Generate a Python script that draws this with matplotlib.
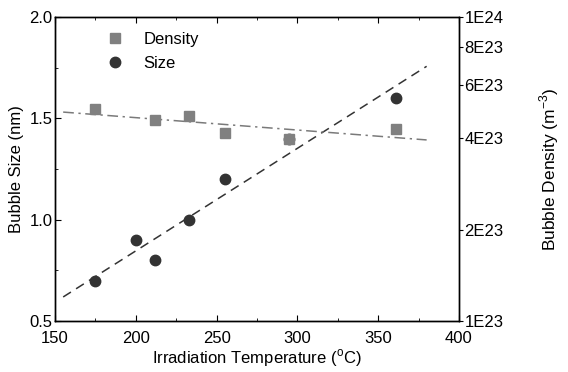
import matplotlib.pyplot as plt
from matplotlib.ticker import FixedLocator, MultipleLocator, NullLocator
import numpy as np

plt.rcParams['font.family'] = ['Liberation Sans', 'DejaVu Sans']

size_temp = [175, 200, 212, 233, 255, 295, 361]
size_nm = [0.70, 0.90, 0.80, 1.00, 1.20, 1.40, 1.60]

dens_temp = [175, 212, 233, 255, 295, 361]
dens_m3 = [4.98e23, 4.58e23, 4.72e23, 4.15e23, 3.97e23, 4.28e23]

density_ticks = [1e23, 2e23, 4e23, 6e23, 8e23, 1e24]
density_labels = ['1E23', '2E23', '4E23', '6E23', '8E23', '1E24']

fit_x = np.array([155, 380])

fig, ax = plt.subplots(figsize=(5.68, 3.72), dpi=100)
fig.subplots_adjust(left=0.097, right=0.808, top=0.954, bottom=0.137)

ax2 = ax.twinx()

# linear fit of size, log fit of density
k, b = np.polyfit(size_temp, size_nm, 1)
ax.plot(fit_x, k * fit_x + b, ls=(0, (6, 4)), color='#333333', lw=1.1)

kd, bd = np.polyfit(dens_temp, np.log10(dens_m3), 1)
ax2.plot(fit_x, 10 ** (kd * fit_x + bd), ls=(0, (7, 3, 1.5, 3)),
         color='#7a7a7a', lw=1.1)

ax2.plot(dens_temp, dens_m3, 's', color='#808080', ms=7.5, label='Density')
ax.plot(size_temp, size_nm, 'o', color='#333333', ms=7.5, label='Size')

ax.set_xlim(150, 400)
ax.set_ylim(0.5, 2.0)
ax.xaxis.set_major_locator(MultipleLocator(50))
ax.xaxis.set_minor_locator(MultipleLocator(25))
ax.yaxis.set_major_locator(MultipleLocator(0.5))
ax.yaxis.set_minor_locator(MultipleLocator(0.25))
ax.tick_params(which='both', direction='in', top=True, labelsize=12)
ax.tick_params(which='major', length=4)
ax.tick_params(which='minor', length=2.5)
ax.tick_params(axis='x', pad=7)
ax.tick_params(axis='y', right=False, pad=2)

ax2.set_yscale('log')
ax2.set_ylim(1e23, 1e24)
ax2.yaxis.set_major_locator(FixedLocator(density_ticks))
ax2.yaxis.set_minor_locator(NullLocator())
ax2.set_yticklabels(density_labels)
ax2.tick_params(axis='y', direction='out', length=3, labelsize=12, pad=1)

ax.set_xlabel('Irradiation Temperature ($^{\\mathregular{o}}$C)', fontsize=12,
              labelpad=1)
ax.set_ylabel('Bubble Size (nm)', fontsize=12, labelpad=4)
ax2.set_ylabel('Bubble Density (m$^{\\mathregular{-3}}$)', fontsize=12.5,
               labelpad=24)

handles = ax2.get_legend_handles_labels()[0] + ax.get_legend_handles_labels()[0]
ax.legend(handles, ['Density', 'Size'], loc='upper left',
          bbox_to_anchor=(0.07, 1.0), frameon=False, fontsize=12,
          handletextpad=0.7, labelspacing=0.55)

for a in (ax, ax2):
    for s in a.spines.values():
        s.set_linewidth(1.0)

plt.savefig('out.png', dpi=100, facecolor='white')
plt.close()
